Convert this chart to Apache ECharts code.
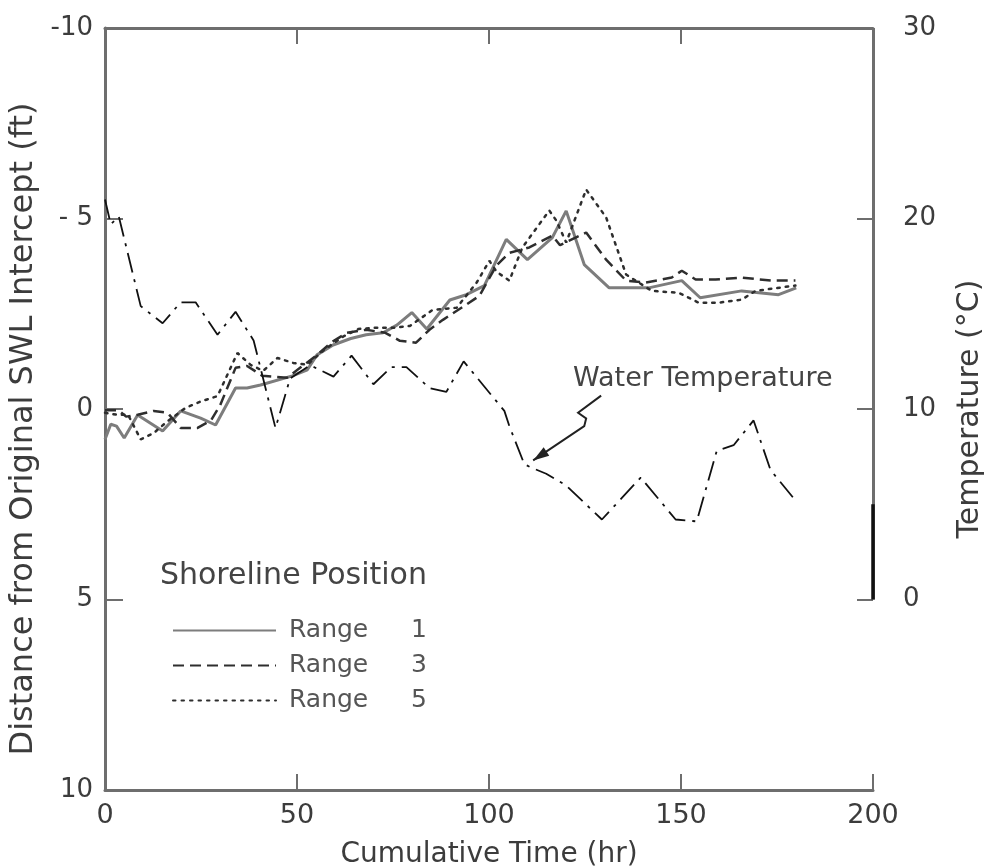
<!DOCTYPE html>
<html><head><meta charset="utf-8">
<script src="https://cdn.jsdelivr.net/npm/echarts@6/dist/echarts.min.js"></script>
<style>html,body{margin:0;padding:0;background:#fff}#c{width:985px;height:868px}</style>
</head><body><div id="c"></div>
<script>
// ---- data (t in hr, distance in ft, temperature in °C) ----
const xTickValues = [0, 50, 100, 150, 200];
const leftTickText = {'-10': '-10', '-5': '- 5', '0': '0', '5': '5', '10': '10'};
const rightTickValues = [0, 10, 20, 30];
const legendNames = ['Range 1', 'Range 3', 'Range 5'];

const range1 = [[0,0.8],[1.5,0.4],[3,0.45],[5,0.76],[8.5,0.16],[15,0.58],[19.7,0.05],[24.9,0.24],[28.8,0.42],[34,-0.55],[37,-0.55],[40.5,-0.63],[48.8,-0.87],[52.7,-1.03],[55.2,-1.42],[59.4,-1.68],[64,-1.85],[68,-1.95],[72.4,-2.0],[76,-2.2],[79.9,-2.53],[83.8,-2.1],[89.8,-2.86],[94.1,-3.0],[98.8,-3.24],[104.5,-4.45],[110,-3.92],[116.5,-4.5],[120.1,-5.2],[124.8,-3.79],[131.3,-3.18],[141.6,-3.18],[150.2,-3.37],[155,-2.92],[165.8,-3.1],[175.4,-3.0],[180,-3.18]];

const range3 = [[0,0.03],[3.5,0.03],[5.5,0.2],[8.5,0.15],[12.7,0.05],[16.3,0.1],[19.7,0.5],[24,0.5],[27.6,0.3],[30,-0.1],[34,-1.08],[37,-1.13],[41,-0.87],[47.4,-0.82],[50.8,-1.08],[55,-1.4],[59,-1.75],[63,-2.0],[68,-2.08],[73,-2.0],[76.8,-1.79],[81,-1.74],[84.5,-2.08],[88,-2.34],[94.1,-2.74],[97.5,-2.97],[101.9,-3.76],[105.3,-4.1],[110.5,-4.24],[116.5,-4.55],[118.5,-4.3],[125.3,-4.63],[130.5,-3.92],[135.7,-3.37],[140.9,-3.32],[147.6,-3.45],[150.2,-3.63],[153.8,-3.4],[159,-3.4],[165.8,-3.45],[173.5,-3.37],[179.8,-3.37]];

const range5 = [[0,0.1],[3,0.15],[6,0.15],[9.3,0.8],[12.7,0.63],[16.3,0.32],[21,-0.03],[25,-0.2],[29.3,-0.34],[34.5,-1.47],[37.9,-1.16],[41.2,-1.0],[44.9,-1.34],[49,-1.21],[52.7,-1.16],[57,-1.55],[62,-1.9],[66,-2.1],[69.8,-2.13],[75,-2.13],[79.4,-2.18],[85.3,-2.6],[91.6,-2.66],[96.8,-3.32],[100.1,-3.89],[102,-3.6],[105.3,-3.37],[108.7,-4.24],[115.7,-5.21],[117.5,-4.95],[120.1,-4.37],[125.3,-5.76],[130.5,-5.03],[135.7,-3.53],[142.4,-3.1],[149.4,-3.05],[154.6,-2.79],[159.8,-2.79],[165.8,-2.87],[169.4,-3.1],[179.8,-3.24]];

const waterTemp = [[0,21.0],[1.5,19.7],[3.6,20.1],[9.3,15.4],[15,14.5],[19.7,15.6],[23.6,15.6],[29.3,13.9],[34,15.1],[38.7,13.6],[44.4,9.0],[48.2,11.6],[53.4,12.3],[59.5,11.7],[64.2,12.8],[69.9,11.3],[74.6,12.2],[78.5,12.2],[84.5,11.1],[88.9,10.9],[93.4,12.5],[104,9.9],[105.3,9.1],[109.2,7.1],[111.3,6.9],[114.9,6.6],[120,6.0],[129.4,4.2],[139.5,6.4],[148.6,4.2],[154.1,4.1],[159.3,7.8],[163.7,8.1],[168.9,9.4],[173.3,6.8],[179.8,5.2]];

// annotation anchors (data units: [t, °C] / [t, ft])
const arrowPath = [[129.2,10.7],[123.2,9.8],[125.3,9.5],[124.8,9.1],[111.5,7.3]];
const waterLabelAt = [121.9, 11.6];
const legendTitleAt = [14.3, 4.4];

const FONT = 'DejaVu Sans';
const TXT = '#3c3c3c';
const AX = '#6e6e6e';

const chart = echarts.init(document.getElementById('c'), null, {renderer: 'canvas'});
chart.setOption({
  animation: false,
  backgroundColor: '#fff',
  grid: {left: 105, right: 112, top: 28, bottom: 78, containLabel: false, outerBoundsMode: 'none'},
  legend: {
    data: legendNames,
    orient: 'vertical',
    left: 167, top: 613,
    itemWidth: 103, itemHeight: 14, itemGap: 10,
    itemStyle: {opacity: 0},
    formatter: n => '{a|' + n.split(' ')[0] + '}{b|' + n.split(' ')[1] + '}',
    textStyle: {
      color: '#555', fontFamily: FONT, fontSize: 25,
      rich: {
        a: {width: 122, fontSize: 25, fontFamily: FONT, color: '#555', padding: [0, 0, 0, 8], lineHeight: 26},
        b: {fontSize: 25, fontFamily: FONT, color: '#555', lineHeight: 26}
      }
    }
  },
  xAxis: [{
    type: 'value', min: 0, max: 200, interval: 50, position: 'bottom',
    name: 'Cumulative Time (hr)', nameLocation: 'middle', nameGap: 51,
    nameTextStyle: {fontFamily: FONT, fontSize: 28, color: TXT},
    axisLine: {show: true, onZero: false, lineStyle: {color: AX, width: 3}},
    axisTick: {show: true, inside: true, length: 16, lineStyle: {color: AX, width: 2}},
    axisLabel: {fontFamily: FONT, fontSize: 27, color: TXT, margin: 12,
      formatter: v => xTickValues.includes(v) ? String(v) : ''},
    splitLine: {show: false}
  }, {
    type: 'value', min: 0, max: 200, interval: 50, position: 'top',
    axisLine: {show: true, onZero: false, lineStyle: {color: AX, width: 3}},
    axisTick: {show: true, inside: true, length: 16, lineStyle: {color: AX, width: 2}},
    axisLabel: {show: false}, splitLine: {show: false}
  }],
  yAxis: [{
    type: 'value', min: -10, max: 10, interval: 5, inverse: true, position: 'left',
    name: 'Distance from Original SWL Intercept (ft)', nameLocation: 'middle', nameGap: 55, nameRotate: 90,
    nameTextStyle: {fontFamily: FONT, fontSize: 32, color: TXT, padding: [0, 40, 0, 0]},
    axisLine: {show: true, onZero: false, lineStyle: {color: AX, width: 3}},
    axisTick: {show: true, inside: true, length: 18, lineStyle: {color: AX, width: 2}},
    axisLabel: {fontFamily: FONT, fontSize: 26, color: TXT, margin: 12,
      formatter: v => leftTickText[String(v)] || ''},
    splitLine: {show: false}
  }, {
    type: 'value', min: -10, max: 30, interval: 10, position: 'right',
    name: 'Temperature (°C)', nameLocation: 'middle', nameGap: 82, nameRotate: 90,
    nameTextStyle: {fontFamily: FONT, fontSize: 30, color: TXT},
    axisLine: {show: false, onZero: false},
    axisTick: {show: true, inside: true, length: 16, lineStyle: {color: AX, width: 2}},
    axisLabel: {fontFamily: FONT, fontSize: 26, color: TXT, margin: 30,
      formatter: v => rightTickValues.includes(v) ? String(v) : ''},
    splitLine: {show: false}
  }],
  series: [{
    name: 'Range 1', type: 'line', xAxisIndex: 0, yAxisIndex: 0, data: range1,
    symbol: 'none', lineStyle: {color: '#7d7d7d', width: 3, type: 'solid'}, itemStyle: {color: '#7d7d7d'}
  }, {
    name: 'Range 3', type: 'line', xAxisIndex: 0, yAxisIndex: 0, data: range3,
    symbol: 'none', lineStyle: {color: '#2e2e2e', width: 2.5, type: [11, 6]}, itemStyle: {color: '#2e2e2e'}
  }, {
    name: 'Range 5', type: 'line', xAxisIndex: 0, yAxisIndex: 0, data: range5,
    symbol: 'none', lineStyle: {color: '#2e2e2e', width: 2.5, type: [2.5, 6], cap: 'round'}, itemStyle: {color: '#2e2e2e'}
  }, {
    name: 'Water Temperature', type: 'line', xAxisIndex: 0, yAxisIndex: 1, data: waterTemp,
    symbol: 'none', lineStyle: {color: '#111', width: 1.8, type: [20, 7, 3, 7]}, itemStyle: {color: '#111'},
    markLine: {
      silent: true, symbol: 'none', label: {show: false},
      data: [
        [{coord: [200, 0], lineStyle: {color: AX, width: 3, type: 'solid'}}, {coord: [200, 30]}],
        [{coord: [200, 0], lineStyle: {color: '#111', width: 3.5, type: 'solid'}}, {coord: [200, 5]}]
      ]
    }
  }]
});

// annotations placed through the chart's own scales
const toPx = (p, yi) => chart.convertToPixel({xAxisIndex: 0, yAxisIndex: yi}, p);
const arrowPx = arrowPath.map(p => toPx(p, 1));
const tip = arrowPx[arrowPx.length - 1];
const prev = arrowPx[arrowPx.length - 2];
const ang = Math.atan2(tip[1] - prev[1], tip[0] - prev[0]);
const hl = 16, hw = 5;
const back = [tip[0] - hl * Math.cos(ang), tip[1] - hl * Math.sin(ang)];
const head = [tip,
  [back[0] + hw * Math.sin(ang), back[1] - hw * Math.cos(ang)],
  [back[0] - hw * Math.sin(ang), back[1] + hw * Math.cos(ang)]];
const wl = toPx(waterLabelAt, 1);
const lt = toPx(legendTitleAt, 0);
chart.setOption({
  graphic: [
    {type: 'polyline', shape: {points: arrowPx}, style: {stroke: '#222', lineWidth: 2, fill: null}},
    {type: 'polygon', shape: {points: head}, style: {fill: '#222'}},
    {type: 'text', x: wl[0], y: wl[1], style: {text: 'Water Temperature', font: '27px "DejaVu Sans"', fill: '#444', verticalAlign: 'middle', align: 'left'}},
    {type: 'text', x: lt[0], y: lt[1], style: {text: 'Shoreline Position', font: '30px "DejaVu Sans"', fill: '#444', verticalAlign: 'middle', align: 'left'}}
  ]
});
</script>
</body></html>
